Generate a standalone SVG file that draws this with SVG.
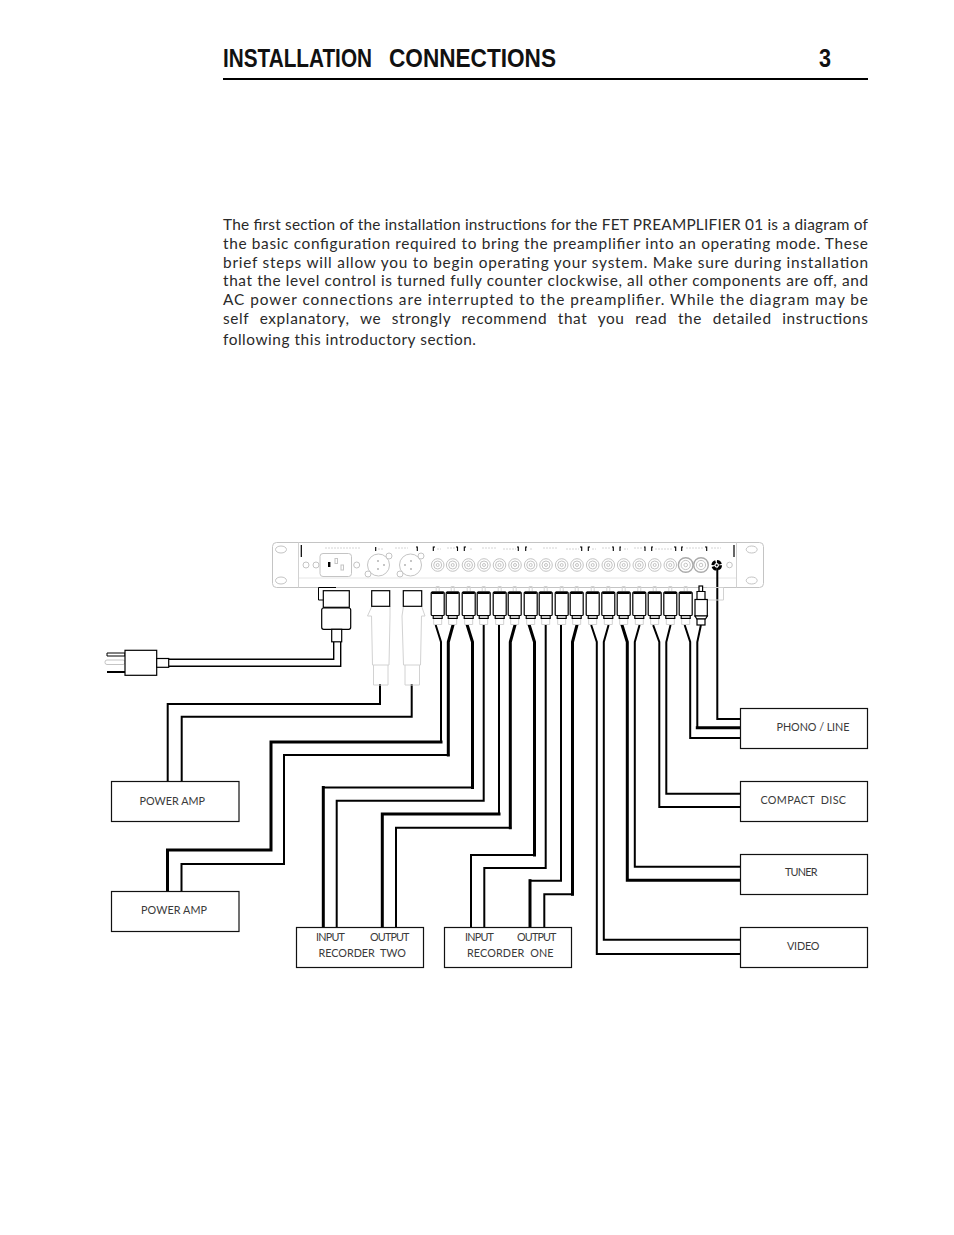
<svg xmlns="http://www.w3.org/2000/svg" width="954" height="1235" viewBox="0 0 954 1235">
<style>
.t{font-family:"Liberation Sans",Arial,sans-serif;font-weight:bold;fill:#111}
.b{font-family:Lato,"Liberation Sans",sans-serif;font-size:15.4px;fill:#2a2a2a}
.l{font-family:Lato,"Liberation Sans",sans-serif;font-size:10.8px;fill:#3a3a3a}
.box{fill:#fff;stroke:#111;stroke-width:1.2}
.g{fill:#fff;stroke:#c4c4c4;stroke-width:1}
.gn{fill:none;stroke:#d2d2d2;stroke-width:1}
.w2,.w3{fill:none;stroke:#000;stroke-linecap:square;stroke-linejoin:miter}
.w2{stroke-width:2}
.w3{stroke-width:3}
.p{fill:#fff;stroke:#000;stroke-width:1.2}
.tick{fill:none;stroke:#000;stroke-width:1.1}
.micro{fill:none;stroke:#d4d4d4;stroke-width:1;stroke-dasharray:2 1}
</style>
<defs>
<g id="jack"><circle r="6.3" class="g"/><circle r="4" class="g"/><circle r="1.5" class="g"/></g>
<g id="jackL"><circle r="7.3" fill="#fff" stroke="#aaa" stroke-width="1.4"/><circle r="4.6" class="g"/><circle r="1.8" class="g"/></g>
<g id="rca">
<path class="gn" d="M-1.5 591V586.5H1.5V591"/>
<path class="gn" d="M-4 618.5V624.5H4V618.5"/>
<rect class="p" x="-6.5" y="592" width="13" height="23.5" rx="1"/>
<path d="M-6 592.8H6" stroke="#000" stroke-width="2.4"/>
<rect class="p" x="-4.5" y="615.6" width="9" height="2.8"/>
</g>
</defs>

<g id="header">
<text class="t" y="67" font-size="26"><tspan x="223" textLength="149" lengthAdjust="spacingAndGlyphs">INSTALLATION</tspan> <tspan x="389" textLength="167" lengthAdjust="spacingAndGlyphs">CONNECTIONS</tspan></text>
<text class="t" x="819" y="67" font-size="26" textLength="12" lengthAdjust="spacingAndGlyphs">3</text>
<path d="M223 79H868" stroke="#000" stroke-width="2"/>
</g>

<g id="intro">
<text class="b" x="223" y="230" textLength="645">The first section of the installation instructions for the FET PREAMPLIFIER 01 is a diagram of</text>
<text class="b" x="223" y="249" textLength="645">the basic configuration required to bring the preamplifier into an operating mode.  These</text>
<text class="b" x="223" y="268" textLength="645">brief steps will allow you to begin operating your system.  Make sure during installation</text>
<text class="b" x="223" y="286" textLength="645">that the level control is turned fully counter clockwise, all other components are off, and</text>
<text class="b" x="223" y="305" textLength="645">AC power connections are interrupted to the preamplifier.  While the diagram may be</text>
<text class="b" x="223" y="324" textLength="645" style="word-spacing:6px">self explanatory, we strongly recommend that you read the detailed instructions</text>
<text class="b" x="223" y="345" textLength="253">following this introductory section.</text>
</g>

<g id="chassis">
<rect class="g" x="272.5" y="542.5" width="491" height="45" rx="4"/>
<path class="gn" d="M298.5 542.5V587.5M736.5 542.5V587.5"/>
<path d="M299 578H736" stroke="#e6e6e6" stroke-width="1"/>
<ellipse class="g" cx="281" cy="549.5" rx="5.5" ry="3.5"/>
<ellipse class="g" cx="281" cy="580.5" rx="5.5" ry="3.5"/>
<ellipse class="g" cx="751.7" cy="549.5" rx="5.5" ry="3.5"/>
<ellipse class="g" cx="751.7" cy="580.5" rx="5.5" ry="3.5"/>
<path d="M301.3 545V557M734 545V557" stroke="#000" stroke-width="1.2"/>
<circle class="g" cx="306" cy="565" r="3"/>
<circle class="g" cx="316" cy="565" r="3"/>
<rect class="g" x="320" y="553.5" width="31.5" height="23" rx="3" stroke-width="1.4"/>
<rect x="328" y="562" width="2.4" height="5" fill="#000"/>
<rect class="g" x="335" y="558.5" width="2.5" height="5"/>
<rect class="g" x="341" y="565" width="2.5" height="5"/>
<circle class="g" cx="356.7" cy="565" r="3"/>
<circle class="g" cx="378.5" cy="565" r="11" stroke-width="1.4"/>
<circle class="g" cx="368" cy="574" r="3"/>
<circle class="g" cx="389" cy="556" r="3"/>
<circle cx="378" cy="561" r=".9" fill="#aaa"/><circle cx="378" cy="569" r=".9" fill="#aaa"/><circle cx="384" cy="565" r=".9" fill="#aaa"/>
<circle class="g" cx="410.5" cy="565" r="11" stroke-width="1.4"/>
<circle class="g" cx="400" cy="574" r="3"/>
<circle class="g" cx="421" cy="556" r="3"/>
<circle cx="405" cy="565" r=".9" fill="#aaa"/><circle cx="411" cy="561" r=".9" fill="#aaa"/><circle cx="411" cy="569" r=".9" fill="#aaa"/>
<use href="#jack" x="437.7" y="565"/><use href="#jack" x="452.7" y="565"/><use href="#jack" x="468.5" y="565"/><use href="#jack" x="484" y="565"/><use href="#jack" x="499.5" y="565"/><use href="#jack" x="515" y="565"/><use href="#jack" x="530.7" y="565"/><use href="#jack" x="546" y="565"/><use href="#jack" x="561.7" y="565"/><use href="#jack" x="577" y="565"/><use href="#jack" x="592.7" y="565"/><use href="#jack" x="608.3" y="565"/><use href="#jack" x="623.7" y="565"/><use href="#jack" x="639.3" y="565"/><use href="#jack" x="654.7" y="565"/><use href="#jack" x="670.3" y="565"/>
<use href="#jackL" x="685.7" y="565"/><use href="#jackL" x="701" y="565"/>
<circle cx="716.7" cy="565.3" r="3.8" fill="#fff" stroke="#000" stroke-width="3" stroke-dasharray="4.5 1.4"/>
<circle cx="716.7" cy="565.3" r="1.1" fill="#000"/>
<circle class="g" cx="729.5" cy="565" r="2.8"/>
<path class="tick" d="M375.7 551V547M417.3 551V547H416M433.3 551V547H435M457.5 551V547H456M464.3 551V547H466M518.3 551V547H517M525.7 551V547H527M581.7 551V547H580M588.3 551V547H590M613.3 551V547H612M620 551V547H621M645 551V547H644M651.7 551V547H653M675.7 551V547H674M681.7 551V547H683M706.7 551V547H705"/>
<path class="micro" d="M325 548H360M378 549H384M395 548H408M437 549H441M447 548H455M470 549H473M482 548H497M503 549H516M530 549H533M543 548H558M566 549H579M592 549H596M602 548H610M624 549H628M634 548H642M655 549H672M686 548H704M711 548H721"/>
</g>

<g id="connectors">
<path class="w2" d="M436 626L441 642V742"/><path class="w3" d="M441 742H271V850H167.5V890"/>
<path class="w3" d="M452.7 626L448.3 642V755"/><path class="w2" d="M448.3 755H284V864H181.5V890"/>
<path class="w3" d="M467.5 626L472.5 642V787.5"/><path class="w2" d="M472.5 787.5H323.3"/><path class="w3" d="M323.3 787.5V926"/>
<path class="w2" d="M483.7 626V800.7H336.7V926"/>
<path class="w2" d="M499 626V814"/><path class="w3" d="M499 814H382.3V926"/>
<path class="w3" d="M514.7 626L510.3 642V827.7"/><path class="w2" d="M510.3 827.7H396V926"/>
<path class="w3" d="M529.5 626L534.5 642V855"/><path class="w2" d="M534.5 855H471V926"/>
<path class="w2" d="M545.7 626V868H484.3V926"/>
<path class="w2" d="M561 626V880.7H530"/><path class="w3" d="M530 880.7V926"/>
<path class="w3" d="M576.7 626L572.5 642V894.3"/><path class="w2" d="M572.5 894.3H544.3V926"/>
<path class="w2" d="M591.5 626L596.8 642V954H739"/>
<path class="w2" d="M608.3 626L603.8 642V939.7H739"/>
<path class="w3" d="M622.3 626L627.3 642V880.3H739"/>
<path class="w2" d="M639.3 626L634.8 642V866.7H739"/>
<path class="w2" d="M653.5 626L659.3 642V807H739"/>
<path class="w2" d="M670.3 626L666.3 642V793.7H739"/>
<path class="w2" d="M685 626L690.2 642V738H739"/>
<path class="w2" d="M700.7 626L697.3 642V727.7"/><path class="w3" d="M697.3 727.7H739"/>
<path class="w2" d="M717.3 569V719H739"/>
<path class="w2" d="M380 685V704H167.7V780"/>
<path class="w2" d="M411.7 685V716.7H181.7V780"/>
<path d="M168.7 659.3H333.7V642M168.7 666.3H340.7V642" fill="none" stroke="#000" stroke-width="1.4"/>
</g>

<g id="power-cord">
<path d="M318.5 600V587.5H336M318.5 600H324" fill="none" stroke="#000" stroke-width="1"/>
<rect class="p" x="323.3" y="590.7" width="26" height="16.6"/>
<rect class="p" x="321.7" y="608" width="29" height="21.3" rx="2"/>
<rect class="p" x="331.7" y="629.3" width="10" height="12.5"/>
</g>

<g id="mains-plug">
<path d="M107 653H125V656H107Z" fill="#fff" stroke="#000" stroke-width="1"/>
<rect class="g" x="105" y="660" width="20" height="4.5" rx="2"/>
<path d="M107 672H125" stroke="#000" stroke-width="2"/>
<rect class="p" x="125" y="650.3" width="31.7" height="25"/>
<rect class="p" x="156.7" y="658.5" width="12" height="8.8"/>
</g>

<g id="xlr-1">
<path class="gn" d="M372 606L367.5 616H371.5L372.5 665H389L390 616V606M373.5 665V685H388V665"/>
<rect class="p" x="371.7" y="590.7" width="18" height="15.6"/>
</g>
<g id="xlr-2">
<path class="gn" d="M403.5 606L402 616L403.5 665H420.5L421.5 616L425 616L421.5 606M405 665V685H419.5V665"/>
<rect class="p" x="403.3" y="590.7" width="18.4" height="15.6"/>
</g>

<g id="rca-plugs">
<use href="#rca" x="437.7"/><use href="#rca" x="452.7"/><use href="#rca" x="468.7"/><use href="#rca" x="483.7"/><use href="#rca" x="499.7"/><use href="#rca" x="514.7"/><use href="#rca" x="530.7"/><use href="#rca" x="545.7"/><use href="#rca" x="561.7"/><use href="#rca" x="576.7"/><use href="#rca" x="592.7"/><use href="#rca" x="608.3"/><use href="#rca" x="623.7"/><use href="#rca" x="639.3"/><use href="#rca" x="654.7"/><use href="#rca" x="670.3"/><use href="#rca" x="685.7"/>
</g>
<g id="phono-plug">
<path class="gn" d="M707 587.5H723.5V600H708"/>
<rect class="p" x="699" y="586" width="3.6" height="5.5"/>
<path class="p" d="M697 591.5H705V599.5H697Z"/>
<rect class="p" x="695" y="599.5" width="12.3" height="16.5"/>
<path class="p" d="M695 616H707.3L705.5 619H696.8Z"/>
<rect class="p" x="697" y="619" width="8" height="6"/>
</g>

<g id="power-amp-1"><rect class="box" x="111.5" y="781.5" width="127.5" height="40"/><text class="l" x="139.5" y="805" textLength="65.5">POWER AMP</text></g>
<g id="power-amp-2"><rect class="box" x="111.5" y="891.5" width="127.5" height="40"/><text class="l" x="141" y="914" textLength="66">POWER AMP</text></g>
<g id="recorder-two"><rect class="box" x="296.5" y="927.5" width="127" height="40"/><text class="l" x="316" y="941" textLength="29">INPUT</text><text class="l" x="370" y="941" textLength="39.5">OUTPUT</text><text class="l" x="318.5" y="957" textLength="87.5" xml:space="preserve">RECORDER  TWO</text></g>
<g id="recorder-one"><rect class="box" x="444.5" y="927.5" width="127" height="40"/><text class="l" x="465" y="941" textLength="29">INPUT</text><text class="l" x="517" y="941" textLength="39.5">OUTPUT</text><text class="l" x="467" y="957" textLength="86.5" xml:space="preserve">RECORDER  ONE</text></g>
<g id="phono-line"><rect class="box" x="740.5" y="708.5" width="127" height="40"/><text class="l" x="776.5" y="731" textLength="73">PHONO / LINE</text></g>
<g id="compact-disc"><rect class="box" x="740.5" y="781.5" width="127" height="40"/><text class="l" x="760.5" y="804" textLength="85.5" xml:space="preserve">COMPACT  DISC</text></g>
<g id="tuner"><rect class="box" x="740.5" y="854.5" width="127" height="40"/><text class="l" x="785" y="876" textLength="32.5">TUNER</text></g>
<g id="video"><rect class="box" x="740.5" y="927.5" width="127" height="40"/><text class="l" x="787" y="950" textLength="32.5">VIDEO</text></g>
</svg>
